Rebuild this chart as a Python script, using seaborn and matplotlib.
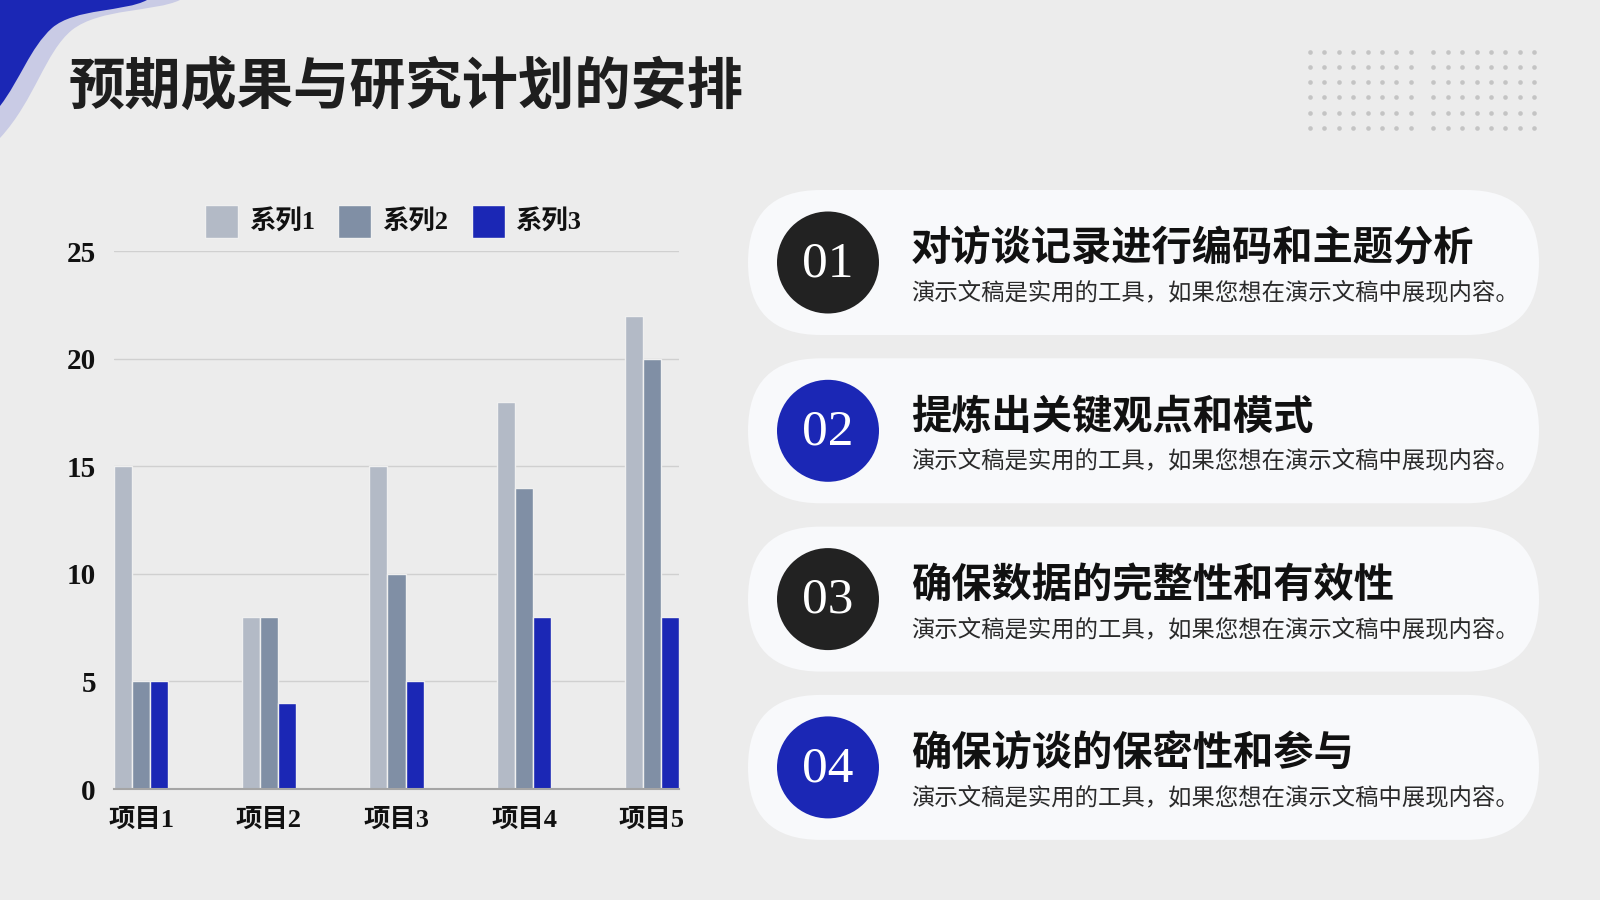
import numpy as np
import pandas as pd
import matplotlib
matplotlib.use('Agg')
import matplotlib.pyplot as plt
import seaborn as sns
from matplotlib.patches import FancyBboxPatch, Circle, PathPatch
from matplotlib.path import Path

# data
title = '预期成果与研究计划的安排'
categories = ['项目1', '项目2', '项目3', '项目4', '项目5']
series_names = ['系列1', '系列2', '系列3']
series1 = [15, 8, 15, 18, 22]
series2 = [5, 8, 10, 14, 20]
series3 = [5, 4, 5, 8, 8]
y_ticks = [0, 5, 10, 15, 20, 25]

card_numbers = ['01', '02', '03', '04']
card_titles = ['对访谈记录进行编码和主题分析', '提炼出关键观点和模式',
               '确保数据的完整性和有效性', '确保访谈的保密性和参与']
card_desc = '演示文稿是实用的工具，如果您想在演示文稿中展现内容。'

# colours
BG = '#ececec'
BLUE = '#1b27b5'
DARK = '#222222'
bar_colors = ['#b3bac6', '#808fa5', BLUE]
circle_colors = [DARK, BLUE, DARK, BLUE]

sns.set_theme(style='white')
plt.rcParams['font.family'] = ['Liberation Serif', 'Noto Sans CJK SC', 'DejaVu Sans']
CJK = ['Noto Sans CJK SC', 'DejaVu Sans']
MIX = ['Liberation Serif', 'Noto Sans CJK SC']

fig = plt.figure(figsize=(16, 9), dpi=100)
fig.patch.set_facecolor(BG)

# background layer in pixel coords
bg = fig.add_axes([0, 0, 1, 1])
bg.set_xlim(0, 1600)
bg.set_ylim(900, 0)
bg.axis('off')

# corner blob
lav = Path([(0, 0), (180, 0), (155, 12), (100, 8), (72, 30), (45, 52), (35, 100), (0, 138), (0, 0)],
           [Path.MOVETO, Path.LINETO, Path.CURVE4, Path.CURVE4, Path.CURVE4,
            Path.CURVE4, Path.CURVE4, Path.CURVE4, Path.CLOSEPOLY])
blue = Path([(0, 0), (147, 0), (125, 12), (75, 8), (52, 28), (30, 48), (20, 80), (0, 106), (0, 0)],
            [Path.MOVETO, Path.LINETO, Path.CURVE4, Path.CURVE4, Path.CURVE4,
             Path.CURVE4, Path.CURVE4, Path.CURVE4, Path.CLOSEPOLY])
bg.add_patch(PathPatch(lav, fc='#c9cbe5', ec='none'))
bg.add_patch(PathPatch(blue, fc=BLUE, ec='none'))

# title
bg.text(69, 87, title, fontsize=40.5, fontweight='bold', family=CJK,
        color='#1e1e1e', ha='left', va='center')

# dot grid
dx = np.concatenate([1310 + 14.4 * np.arange(8), 1433.3 + 14.4 * np.arange(8)])
dy = 51.7 + 15.2 * np.arange(6)
gx, gy = np.meshgrid(dx, dy)
bg.scatter(gx.ravel(), gy.ravel(), s=11, color='#c4c4c4', linewidths=0)

# cards
for i in range(4):
    top = 190 + 168.3 * i
    bg.add_patch(FancyBboxPatch((748, top), 791, 145,
                                boxstyle='round,pad=0,rounding_size=72.5',
                                fc='#f8f9fb', ec='none'))
    bg.add_patch(Circle((828, top + 72.5), 51, fc=circle_colors[i], ec='none'))
    bg.text(828, top + 74, card_numbers[i], fontsize=37, color='white',
            family=['Liberation Serif'], ha='center', va='center')
    bg.text(911, top + 59, card_titles[i], fontsize=29, fontweight='bold',
            family=CJK, color='#111111', ha='left', va='center')
    bg.text(911, top + 103, card_desc, fontsize=16.8, family=CJK,
            color='#2a2a2a', ha='left', va='center')

# bar chart
ax = fig.add_axes([114 / 1600, 1 - 789 / 900, 565 / 1600, 538 / 900])
ax.set_facecolor('none')

df = pd.DataFrame({
    '项目': categories * 3,
    '系列': np.repeat(series_names, len(categories)),
    '值': series1 + series2 + series3,
})

sns.barplot(data=df, x='项目', y='值', hue='系列', palette=bar_colors,
            saturation=1, width=0.424, errorbar=None,
            edgecolor='#f0f0f0', linewidth=1, ax=ax)

ax.set_xlim(-0.212, 4.212)
ax.set_ylim(0, 25)
ax.set_yticks(y_ticks)
ax.set_xlabel('')
ax.set_ylabel('')
ax.yaxis.grid(True, color='#d0d0d0', lw=1)
ax.set_axisbelow(True)
sns.despine(ax=ax, left=True)
ax.spines['bottom'].set_color('#a5a5a5')
ax.spines['bottom'].set_linewidth(1.5)

ax.tick_params(axis='y', length=0, pad=13, labelsize=21, colors='#111111')
ax.tick_params(axis='x', length=0, pad=14, labelsize=19, colors='#111111')
for lbl in ax.get_xticklabels() + ax.get_yticklabels():
    lbl.set_fontweight('bold')
    lbl.set_family(MIX)

handles, labels = ax.get_legend_handles_labels()
ax.legend(handles, labels, loc='center', bbox_to_anchor=(0.495, 1.055), ncol=3,
          frameon=False, handlelength=1.25, handleheight=1.5, handletextpad=0.45,
          columnspacing=0.85, labelcolor='#111111',
          prop={'family': MIX, 'weight': 'bold', 'size': 19})

fig.savefig('out.png', dpi=100, facecolor=BG)
